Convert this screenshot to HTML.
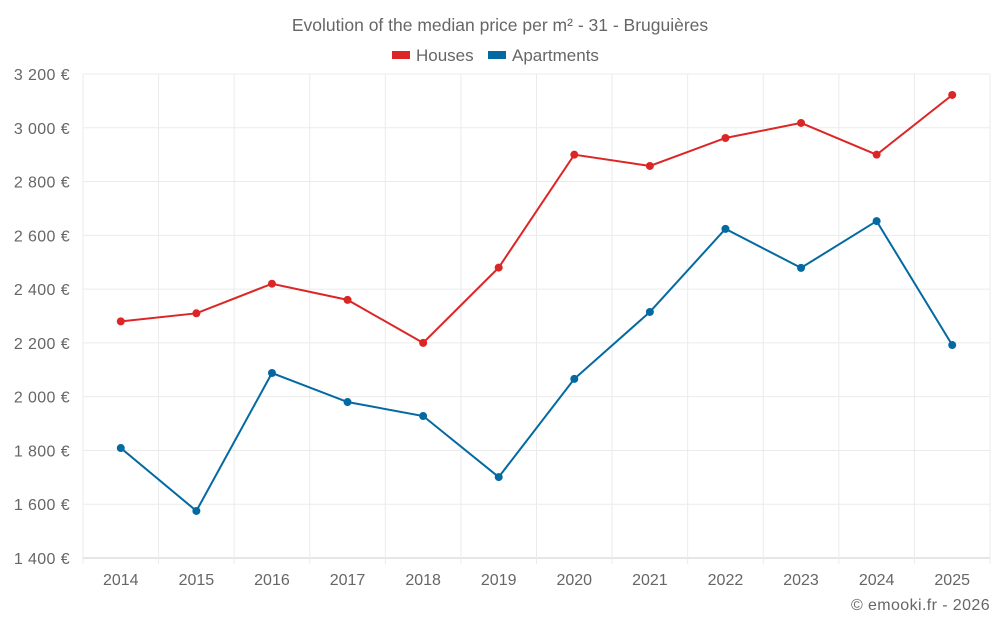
<!DOCTYPE html>
<html><head><meta charset="utf-8"><style>
body{margin:0;background:#fff;font-family:"Liberation Sans",sans-serif;}
svg text{font-family:"Liberation Sans",sans-serif;fill:#666;}
</style></head><body>
<svg id="chart" width="1000" height="625">
<text x="500" y="31" text-anchor="middle" font-size="17.5">Evolution of the median price per m² - 31 - Bruguières</text>
<g>
<g><rect x="392" y="51" width="18" height="8" fill="#dc2626"/><text x="416" y="61" font-size="17">Houses</text></g>
<g><rect x="488" y="51" width="18" height="8" fill="#0369a1"/><text x="512" y="61" font-size="17">Apartments</text></g>
</g>
<g id="grid"></g><g id="axes"></g><g id="series"></g>
<text x="990" y="610" text-anchor="end" font-size="16" letter-spacing="0.4">© emooki.fr - 2026</text>
</svg>
<script>
const years=[2014,2015,2016,2017,2018,2019,2020,2021,2022,2023,2024,2025];
const houses=[2280,2310,2420,2360,2200,2480,2900,2858,2962,3018,2900,3122];
const apartments=[1809,1575,2088,1980,1928,1701,2066,2315,2624,2479,2653,2192];
const yTicks=[1400,1600,1800,2000,2200,2400,2600,2800,3000,3200];
const L=83,R=990,T=74,B=558,yMin=1400,yMax=3200;
const ns="http://www.w3.org/2000/svg";
const bw=(R-L)/years.length;
const x=i=>L+bw*(i+0.5);
const y=v=>B-(v-yMin)/(yMax-yMin)*(B-T);
function mk(tag,at,parent){const e=document.createElementNS(ns,tag);for(const k in at)e.setAttribute(k,at[k]);parent.appendChild(e);return e;}
const grid=document.getElementById('grid'),axes=document.getElementById('axes'),series=document.getElementById('series');
yTicks.forEach(v=>{
 const l=mk('line',{x1:L,x2:R,y1:y(v),y2:y(v),stroke:v===yMin?'#ccc':'#ebebeb'},grid);
 
 
 const t=mk('text',{x:70,y:y(v)+6,'text-anchor':'end','font-size':16,'letter-spacing':0.4},axes);
 t.textContent=String(v).replace(/\B(?=(\d{3})+(?!\d))/g,' ')+' €';
 
 
});
for(let i=0;i<=years.length;i++){
 const l=mk('line',{x1:L+bw*i,x2:L+bw*i,y1:T,y2:B+6,stroke:'#ebebeb'},grid);
 
 
}
years.forEach((yr,i)=>{
 const t=mk('text',{x:x(i),y:585,'text-anchor':'middle','font-size':16},axes);
 t.textContent=yr;
 
 
});
function draw(data,color,name){
 const p=mk('polyline',{points:data.map((v,i)=>x(i)+','+y(v)).join(' '),fill:'none',stroke:color,'stroke-width':2},series);
 
 
 data.forEach((v,i)=>{
  const c=mk('circle',{cx:x(i),cy:y(v),r:4,fill:color},series);
  
  
 });
}
draw(houses,'#dc2626','houses');
draw(apartments,'#0369a1','apartments');
</script>
</body></html>
